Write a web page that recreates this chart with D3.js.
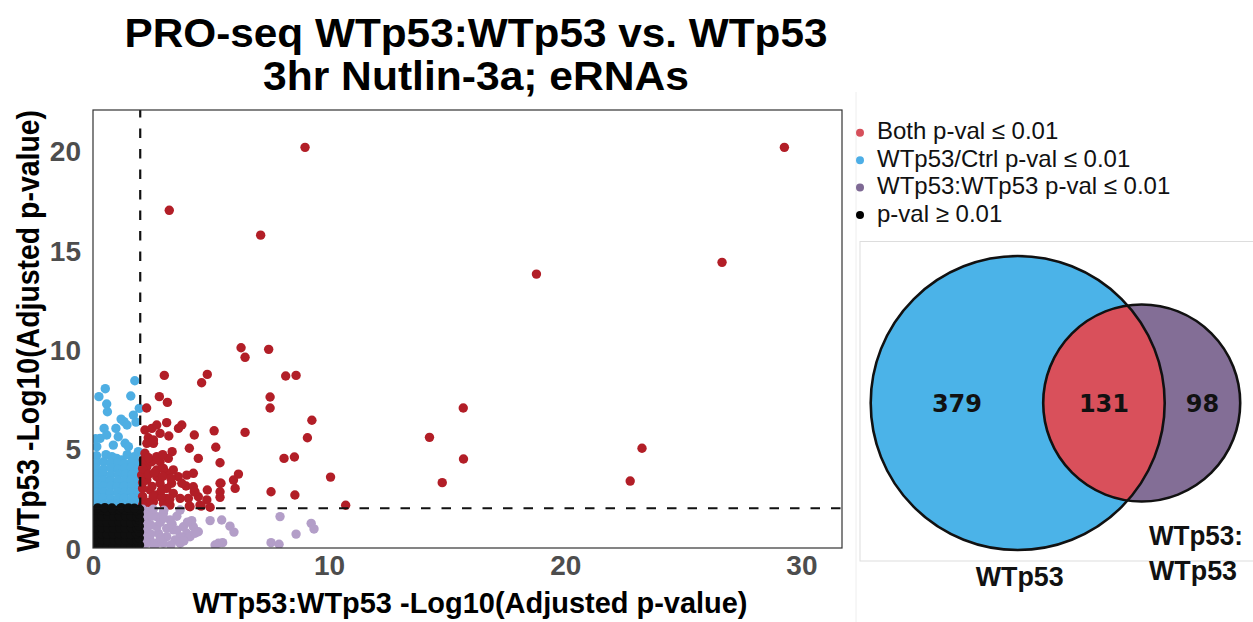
<!DOCTYPE html>
<html>
<head>
<meta charset="utf-8">
<script src="https://cdn.jsdelivr.net/npm/d3@7"></script>
<style>
  body { margin: 0; background: #fff; }
  svg { display: block; }
</style>
</head>
<body>
<svg id="chart" width="1253" height="622"></svg>
<script>
// ---- data -------------------------------------------------------------
const titleLines = ["PRO-seq WTp53:WTp53 vs. WTp53", "3hr Nutlin-3a; eRNAs"];
const xLabel = "WTp53:WTp53 -Log10(Adjusted p-value)";
const yLabel = "WTp53 -Log10(Adjusted p-value)";
const xTicks = [0, 10, 20, 30];
const yTicks = [0, 5, 10, 15, 20];
const threshold = 2; // -log10(0.01)

// significant in both comparisons
const bothSig = [
  [8.98,20.17],[29.28,20.17],[3.23,17.0],[7.1,15.75],[26.64,14.38],[18.78,13.79],
  [6.27,10.08],[6.44,9.6],[7.44,10.0],[3.02,8.69],[4.84,8.74],[4.6,8.32],[8.16,8.66],
  [8.6,8.69],[2.81,7.62],[3.15,7.33],[7.5,7.6],[7.5,7.05],[2.27,7.05],[15.68,7.05],
  [9.27,6.43],[3.12,6.31],[3.76,6.19],[3.62,6.02],[5.13,5.9],[6.44,5.82],[4.29,5.69],
  [3.21,5.64],[9.08,5.55],[14.25,5.57],[2.34,5.55],[2.56,5.27],[5.2,5.07],[4.08,5.02],
  [23.25,5.02],[3.35,4.85],[8.09,4.51],[8.53,4.58],[4.46,4.51],[15.69,4.48],[5.38,4.29],
  [10.06,3.57],[6.16,3.72],[5.95,3.42],[5.42,3.26],[22.75,3.37],[14.79,3.29],[7.54,2.83],
  [8.55,2.67],[10.7,2.15],[4.84,2.92],[5.38,2.83],[5.38,2.55],[4.08,2.11],[4.58,2.11],
  [4.96,2.05],[4.46,2.58],[4.29,2.83],
  [2.28,3.42],[2.7,3.59],[2.84,3.26],[3.33,3.26],[3.12,3.0],[2.42,2.92],[2.7,2.67],
  [3.12,2.5],[3.4,2.75],[3.61,3.59],[3.97,3.67],[4.25,3.76],[3.94,3.12],[4.32,2.83],
  [4.82,2.42],[5.38,3.26],[6.02,3.0],[2.13,2.25],[2.56,2.33],[2.98,2.25],[3.26,2.16],
  [4.11,2.08],[2.06,3.67],[2.28,4.09],[2.49,4.34],[2.84,4.34],[3.19,4.51],[3.4,3.93],
  [3.12,3.76],[2.7,3.93],[2.2,4.77],[2.13,4.43],[2.28,5.27],[2.56,5.44],[2.84,5.77],
  [2.2,5.94],[2.49,6.02],[2.7,6.19],[3.76,3.26],[4.25,3.08],[3.69,2.5],[4.04,2.5],
  [2.98,4.01],[4.53,2.16],
  [2.1,2.6],[2.1,3.0],[2.1,3.3],[2.1,4.0],[2.35,2.3],[2.35,3.7],[2.5,3.1],[2.55,2.6],
  [2.6,3.8],[2.9,2.55],[2.9,2.9],[2.95,3.6],[3.25,2.45],[3.3,3.5],[2.35,4.55],[2.7,4.6],
  [2.95,4.7],[2.1,2.15]
];

// significant in WTp53 / Ctrl only
const ctrlSig = [
  [1.77,8.42],[0.52,8.02],[0.25,7.62],[1.6,7.65],[0.58,7.25],[0.61,6.86],[1.96,7.03],
  [1.71,6.69],[1.19,6.49],[1.31,6.36],[1.44,6.19],[1.82,6.34],[0.47,6.02],[0.97,6.02],
  [0.3,5.52],[0.58,5.69],[1.07,5.6],[1.36,5.27],[1.5,5.1],[0.86,5.18],[1.92,4.85],
  [0.16,5.1],[1.0,4.51],[1.22,4.43],[0.1,5.5],
  [0.15,4.65],[0.55,4.7],[0.8,4.6],[1.45,4.7],[1.75,4.6],
  [0.15,4.3],[0.45,4.35],[0.75,4.28],[1.05,4.3],[1.35,4.25],[1.65,4.35],[1.93,4.3],
  [0.12,4.0],[0.45,3.98],[0.78,4.02],[1.05,3.95],[1.35,4.0],[1.62,4.05],[1.9,3.98],
  [0.15,3.7],[0.42,3.72],[0.75,3.68],[1.08,3.7],[1.38,3.72],[1.65,3.68],[1.95,3.65],
  [0.12,3.4],[0.45,3.42],[0.72,3.38],[1.05,3.4],[1.35,3.4],[1.62,3.42],[1.92,3.35],
  [0.15,3.1],[0.42,3.1],[0.75,3.12],[1.02,3.08],[1.32,3.1],[1.65,3.12],[1.95,3.05],
  [0.12,2.8],[0.45,2.82],[0.72,2.78],[1.05,2.8],[1.35,2.8],[1.62,2.83],[1.92,2.75],
  [0.15,2.5],[0.42,2.52],[0.75,2.48],[1.05,2.5],[1.32,2.5],[1.65,2.52],[1.95,2.45],
  [0.12,2.22],[0.45,2.2],[0.75,2.23],[1.02,2.2],[1.35,2.22],[1.62,2.2],[1.92,2.18]
];

// significant in WTp53:WTp53 only
const wtSig = [
  [7.92,1.58],[9.24,1.24],[9.36,0.96],[8.6,0.7],[7.54,0.27],[7.88,0.19],[4.96,1.38],
  [5.45,1.41],[5.8,1.1],[5.97,0.8],[5.31,0.24],[5.49,0.27],[5.17,0.15],
  [3.69,1.91],[2.98,1.75],[3.26,1.41],[4.18,1.38],[4.46,0.82],[3.97,0.74],[3.69,0.57],
  [3.12,0.57],[2.77,0.74],[2.42,0.4],[2.27,0.24],[2.7,1.07],[3.12,0.99],[2.27,1.41],
  [2.27,0.91],[2.34,1.83],[2.7,1.58],[3.4,0.91],[3.83,1.07],[4.25,1.07],[4.11,0.57],
  [3.47,0.4],[2.98,0.24],[2.7,0.24],[4.32,0.74],[3.69,0.24],
  [2.1,0.1],[2.1,0.6],[2.1,1.15],[2.1,1.65],[2.1,1.95],[2.45,0.7],[2.45,1.15],[2.5,1.6],
  [2.55,1.95],[2.85,0.5],[2.85,1.3],[3.0,1.9],[3.0,1.5],[3.3,0.15],[3.35,1.2],[3.55,1.6],
  [3.55,0.9],[3.85,0.35],[4.0,1.3],[2.2,0.35],[2.6,0.1]
];

// not significant in either comparison
const nonSig = [
  [0.1,0.1],[0.35,0.12],[0.6,0.08],[0.85,0.12],[1.1,0.1],[1.35,0.08],[1.6,0.12],[1.85,0.1],[1.97,0.15],
  [0.12,0.4],[0.38,0.42],[0.62,0.38],[0.88,0.41],[1.12,0.4],[1.38,0.39],[1.62,0.42],[1.86,0.38],[1.96,0.5],
  [0.1,0.7],[0.36,0.72],[0.6,0.69],[0.86,0.7],[1.1,0.72],[1.36,0.7],[1.6,0.68],[1.84,0.72],[1.97,0.8],
  [0.13,1.0],[0.37,1.02],[0.63,0.99],[0.87,1.0],[1.13,1.01],[1.37,0.99],[1.63,1.02],[1.87,1.0],[1.96,1.1],
  [0.1,1.3],[0.35,1.31],[0.6,1.29],[0.85,1.3],[1.1,1.32],[1.35,1.3],[1.6,1.28],[1.85,1.31],[1.97,1.4],
  [0.12,1.6],[0.38,1.6],[0.62,1.62],[0.88,1.59],[1.12,1.6],[1.38,1.61],[1.62,1.6],[1.86,1.58],[1.96,1.7],
  [0.1,1.9],[0.36,1.92],[0.6,1.88],[0.86,1.9],[1.1,1.93],[1.36,1.9],[1.6,1.91],[1.84,1.89],[1.97,1.95],
  [0.2,2.02],[0.5,2.03],[0.8,2.01],[1.2,2.03],[1.5,2.02],[1.75,2.0]
];

const legendLabels = ["Both p-val \u2264 0.01", "WTp53/Ctrl p-val \u2264 0.01",
                      "WTp53:WTp53 p-val \u2264 0.01", "p-val \u2265 0.01"];
const legendColors = ["#d6505b", "#4daee6", "#7e6994", "#000000"];

// Venn: [WTp53 only, both, WTp53:WTp53 only]
const vennCounts = [379, 131, 98];
const vennSetLabels = [["WTp53"], ["WTp53:", "WTp53"]];
const vennColors = ["#4bb3e8", "#d9505b", "#836e96"];

// ---- layout -----------------------------------------------------------
const svg = d3.select("#chart");
const panel = { left: 93, right: 842, top: 110, bottom: 548 };
const font = "'Liberation Sans', Arial, Helvetica, sans-serif";

const x = d3.scaleLinear().domain([0, 31.72]).range([panel.left, panel.right]);
const y = d3.scaleLinear().domain([0, 22.05]).range([panel.bottom, panel.top]);

// title
svg.append("g").selectAll("text").data(titleLines).join("text")
  .attr("x", 476).attr("y", (d, i) => 47 + i * 43)
  .attr("text-anchor", "middle")
  .attr("font-family", font).attr("font-weight", "bold").attr("font-size", 41)
  .attr("textLength", (d, i) => i === 0 ? 703 : 426).attr("lengthAdjust", "spacingAndGlyphs")
  .attr("fill", "#000").text(d => d);

// points, clipped to the panel
svg.append("clipPath").attr("id", "panel-clip").append("rect")
  .attr("x", panel.left).attr("y", panel.top)
  .attr("width", panel.right - panel.left).attr("height", panel.bottom - panel.top);

const pts = svg.append("g").attr("clip-path", "url(#panel-clip)");
const groups = [
  { data: ctrlSig, color: "#4eaee3" },
  { data: bothSig, color: "#b21e27" },
  { data: wtSig,   color: "#b39ec8" },
  { data: nonSig,  color: "#0f0f0f" }
];
groups.forEach(g => {
  pts.append("g").selectAll("circle").data(g.data).join("circle")
    .attr("cx", d => x(d[0])).attr("cy", d => y(d[1]))
    .attr("r", 4.7).attr("fill", g.color);
});

// threshold lines
pts.append("line")
  .attr("x1", x(threshold)).attr("x2", x(threshold))
  .attr("y1", panel.bottom).attr("y2", panel.top)
  .attr("stroke", "#111").attr("stroke-width", 2.2).attr("stroke-dasharray", "9.5,11");
pts.append("line")
  .attr("x1", panel.left).attr("x2", panel.right)
  .attr("y1", y(threshold)).attr("y2", y(threshold))
  .attr("stroke", "#111").attr("stroke-width", 2.2).attr("stroke-dasharray", "9.5,11");

// panel border
svg.append("rect")
  .attr("x", panel.left).attr("y", panel.top)
  .attr("width", panel.right - panel.left).attr("height", panel.bottom - panel.top)
  .attr("fill", "none").attr("stroke", "#333").attr("stroke-width", 1.2);

// axes (labels only, no tick marks)
const xAxis = svg.append("g")
  .attr("transform", `translate(0,${panel.bottom + 7})`)
  .call(d3.axisBottom(x).tickValues(xTicks).tickSize(0).tickPadding(0).tickFormat(d3.format("d")));
xAxis.select(".domain").remove();
xAxis.selectAll("text")
  .attr("font-family", font).attr("font-weight", "bold").attr("font-size", 28)
  .attr("fill", "#4d4d4d").attr("dy", "0.71em");

const yAxis = svg.append("g")
  .attr("transform", `translate(${panel.left - 12},0)`)
  .call(d3.axisLeft(y).tickValues(yTicks).tickSize(0).tickPadding(0).tickFormat(d3.format("d")));
yAxis.select(".domain").remove();
yAxis.selectAll("text")
  .attr("font-family", font).attr("font-weight", "bold").attr("font-size", 28)
  .attr("fill", "#4d4d4d").attr("dy", "0.36em");

// axis titles
svg.append("text")
  .attr("x", 470).attr("y", 613)
  .attr("text-anchor", "middle")
  .attr("font-family", font).attr("font-weight", "bold").attr("font-size", 29)
  .attr("textLength", 555).attr("lengthAdjust", "spacingAndGlyphs")
  .text(xLabel);
svg.append("text")
  .attr("transform", "translate(39,331) rotate(-90)")
  .attr("text-anchor", "middle")
  .attr("font-family", font).attr("font-weight", "bold").attr("font-size", 32)
  .attr("textLength", 442).attr("lengthAdjust", "spacingAndGlyphs")
  .text(yLabel);

// right column separator and venn frame
svg.append("line")
  .attr("x1", 856).attr("x2", 856).attr("y1", 92).attr("y2", 622)
  .attr("stroke", "#eeeeee").attr("stroke-width", 1);
svg.append("rect")
  .attr("x", 860).attr("y", 241.5).attr("width", 400).attr("height", 319.5)
  .attr("fill", "none").attr("stroke", "#dddddd").attr("stroke-width", 1);

// legend
const legend = svg.append("g").selectAll("g").data(legendLabels).join("g")
  .attr("transform", (d, i) => `translate(860,${139.3 + i * 27.4})`);
legend.append("circle").attr("cx", 0).attr("cy", -6.5).attr("r", 4)
  .attr("fill", (d, i) => legendColors[i]);
legend.append("text").attr("x", 17).attr("y", 0)
  .attr("font-family", font).attr("font-size", 24).attr("fill", "#111")
  .text(d => d);

// ---- area-proportional Venn -------------------------------------------
const totalA = vennCounts[0] + vennCounts[1];
const totalB = vennCounts[1] + vennCounts[2];
const rScale = d3.scaleSqrt().domain([0, totalA]).range([0, 147]);
const rA = rScale(totalA), rB = rScale(totalB);

function lensArea(d, r1, r2) {
  if (d >= r1 + r2) return 0;
  if (d <= Math.abs(r1 - r2)) return Math.PI * Math.min(r1, r2) ** 2;
  const a1 = Math.acos((d * d + r1 * r1 - r2 * r2) / (2 * d * r1));
  const a2 = Math.acos((d * d + r2 * r2 - r1 * r1) / (2 * d * r2));
  const k = Math.sqrt((-d + r1 + r2) * (d + r1 - r2) * (d - r1 + r2) * (d + r1 + r2));
  return r1 * r1 * a1 + r2 * r2 * a2 - 0.5 * k;
}
const targetOverlap = Math.PI * rA * rA * vennCounts[1] / totalA;
let lo = Math.abs(rA - rB), hi = rA + rB;
for (let i = 0; i < 60; i++) {
  const mid = (lo + hi) / 2;
  if (lensArea(mid, rA, rB) > targetOverlap) lo = mid; else hi = mid;
}
const dist = (lo + hi) / 2;
const cy = 403;
const cxA = 1017.7;
const cxB = cxA + dist;

const venn = svg.append("g");
venn.append("clipPath").attr("id", "clip-b").append("circle")
  .attr("cx", cxB).attr("cy", cy).attr("r", rB);
venn.append("circle").attr("cx", cxA).attr("cy", cy).attr("r", rA).attr("fill", vennColors[0]);
venn.append("circle").attr("cx", cxB).attr("cy", cy).attr("r", rB).attr("fill", vennColors[2]);
venn.append("circle").attr("cx", cxA).attr("cy", cy).attr("r", rA)
  .attr("fill", vennColors[1]).attr("clip-path", "url(#clip-b)");
venn.append("circle").attr("cx", cxA).attr("cy", cy).attr("r", rA)
  .attr("fill", "none").attr("stroke", "#111").attr("stroke-width", 2.6);
venn.append("circle").attr("cx", cxB).attr("cy", cy).attr("r", rB)
  .attr("fill", "none").attr("stroke", "#111").attr("stroke-width", 2.6);

// region counts centred between the circle edges
const edges = [cxA - rA, cxB - rB, cxA + rA, cxB + rB];
const countX = [(edges[0] + edges[1]) / 2, (edges[1] + edges[2]) / 2, (edges[2] + edges[3]) / 2];
venn.selectAll("text.count").data(vennCounts).join("text")
  .attr("class", "count")
  .attr("x", (d, i) => countX[i]).attr("y", cy + 8.5)
  .attr("text-anchor", "middle")
  .attr("font-family", "'DejaVu Sans', sans-serif").attr("font-weight", "bold").attr("font-size", 24)
  .attr("fill", "#111").text(d => d);

// set labels
venn.append("text")
  .attr("x", cxA + 2).attr("y", 586)
  .attr("text-anchor", "middle")
  .attr("font-family", font).attr("font-weight", "bold").attr("font-size", 27)
  .attr("textLength", 88).attr("lengthAdjust", "spacingAndGlyphs")
  .attr("fill", "#111").text(vennSetLabels[0][0]);
venn.selectAll("text.setb").data(vennSetLabels[1]).join("text")
  .attr("class", "setb")
  .attr("x", 1149).attr("y", (d, i) => 545 + i * 35)
  .attr("font-family", font).attr("font-weight", "bold").attr("font-size", 27)
  .attr("textLength", (d, i) => i === 0 ? 94 : 88).attr("lengthAdjust", "spacingAndGlyphs")
  .attr("fill", "#111").text(d => d);
</script>
</body>
</html>
